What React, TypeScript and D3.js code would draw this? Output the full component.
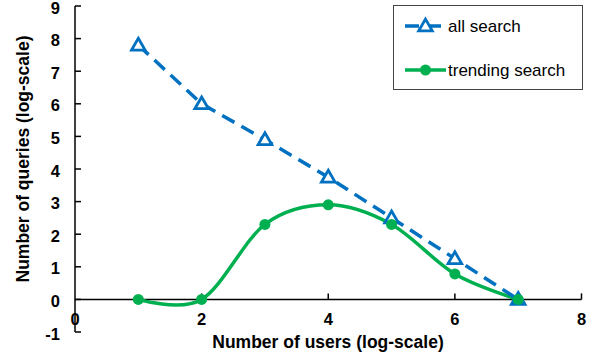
import React, { useEffect, useRef } from "react";
import * as d3 from "d3";

const users = [1, 2, 3, 4, 5, 6, 7];
const allSearch = [7.8, 6.0, 4.9, 3.75, 2.5, 1.25, 0];
const trendingSearch = [0, 0, 2.3, 2.9, 2.3, 0.78, 0];
const xTicks = [0, 2, 4, 6, 8];
const yTicks = [-1, 0, 1, 2, 3, 4, 5, 6, 7, 8, 9];

const BLUE = "#0070C0";
const GREEN = "#00B050";
const FONT = "Arial, 'Liberation Sans', sans-serif";

const Chart = () => {
    const ref = useRef<SVGSVGElement>(null);

    useEffect(() => {
        const width = 598;
        const height = 364;
        const svg = d3.select(ref.current);
        svg.selectAll("*").remove();

        const x = d3.scaleLinear().domain([0, 8]).range([75, 581.5]);
        const y = d3.scaleLinear().domain([-1, 9]).range([332, 6]);

        svg.attr("width", width).attr("height", height);
        svg.append("rect").attr("width", width).attr("height", height).attr("fill", "#fff");

        // axes
        svg.append("line")
            .attr("x1", x(0)).attr("x2", x(0))
            .attr("y1", y(-1)).attr("y2", y(9))
            .attr("stroke", "#000").attr("stroke-width", 1.5);
        svg.append("line")
            .attr("x1", x(0)).attr("x2", x(8))
            .attr("y1", y(0)).attr("y2", y(0))
            .attr("stroke", "#000").attr("stroke-width", 1.5);

        svg.selectAll(".ytick")
            .data(yTicks)
            .enter()
            .append("line")
            .attr("x1", x(0)).attr("x2", x(0) + 6)
            .attr("y1", (d) => y(d)).attr("y2", (d) => y(d))
            .attr("stroke", "#000").attr("stroke-width", 1.5);
        svg.selectAll(".ylab")
            .data(yTicks)
            .enter()
            .append("text")
            .attr("x", 60)
            .attr("y", (d) => y(d) + 7.5)
            .attr("text-anchor", "end")
            .style("font", `bold 16.5px ${FONT}`)
            .text((d) => d);

        svg.selectAll(".xtick")
            .data(xTicks.slice(1))
            .enter()
            .append("line")
            .attr("x1", (d) => x(d)).attr("x2", (d) => x(d))
            .attr("y1", y(0)).attr("y2", y(0) - 6)
            .attr("stroke", "#000").attr("stroke-width", 1.5);
        svg.selectAll(".xlab")
            .data(xTicks)
            .enter()
            .append("text")
            .attr("x", (d) => x(d))
            .attr("y", 325)
            .attr("text-anchor", "middle")
            .style("font", `bold 16.5px ${FONT}`)
            .text((d) => d);

        // axis titles
        svg.append("text")
            .attr("x", 328).attr("y", 348)
            .attr("text-anchor", "middle")
            .style("font", `bold 17.5px ${FONT}`)
            .text("Number of users (log-scale)");
        svg.append("text")
            .attr("transform", "translate(28.5,159) rotate(-90)")
            .attr("text-anchor", "middle")
            .style("font", `bold 17.5px ${FONT}`)
            .text("Number of queries (log-scale)");

        // series
        const allLine = d3.line<number>()
            .x((d, i) => x(users[i]))
            .y((d) => y(d));
        const trendLine = d3.line<number>()
            .x((d, i) => x(users[i]))
            .y((d) => y(d))
            .curve(d3.curveCardinal.tension(0));

        svg.append("path")
            .attr("d", trendLine(trendingSearch))
            .attr("fill", "none")
            .attr("stroke", GREEN)
            .attr("stroke-width", 3.5);
        svg.append("path")
            .attr("d", allLine(allSearch))
            .attr("fill", "none")
            .attr("stroke", BLUE)
            .attr("stroke-width", 3.5)
            .attr("stroke-dasharray", "14,8");

        const tri = d3.symbol().type(d3.symbolTriangle).size(80);
        svg.selectAll(".tri")
            .data(allSearch)
            .enter()
            .append("path")
            .attr("d", tri)
            .attr("transform", (d, i) => `translate(${x(users[i])},${y(d) + 1})`)
            .attr("fill", "#fff")
            .attr("stroke", BLUE)
            .attr("stroke-width", 2.8);

        svg.selectAll(".dot")
            .data(trendingSearch)
            .enter()
            .append("circle")
            .attr("cx", (d, i) => x(users[i]))
            .attr("cy", (d) => y(d))
            .attr("r", 5.5)
            .attr("fill", GREEN);

        // legend
        const lg = svg.append("g");
        lg.append("rect")
            .attr("x", 393.5).attr("y", 5.5)
            .attr("width", 189).attr("height", 84)
            .attr("fill", "#fff")
            .attr("stroke", "#444").attr("stroke-width", 1);
        lg.append("path")
            .attr("d", "M405,26H446")
            .attr("stroke", BLUE).attr("stroke-width", 3.5)
            .attr("stroke-dasharray", "14,8");
        lg.append("path")
            .attr("d", tri)
            .attr("transform", "translate(425.5,27)")
            .attr("fill", "#fff")
            .attr("stroke", BLUE)
            .attr("stroke-width", 2.8);
        lg.append("text")
            .attr("x", 448).attr("y", 32)
            .style("font", `17px ${FONT}`)
            .text("all search");
        lg.append("path")
            .attr("d", "M405,70H446")
            .attr("stroke", GREEN).attr("stroke-width", 3.5);
        lg.append("circle")
            .attr("cx", 425.5).attr("cy", 70).attr("r", 5.5)
            .attr("fill", GREEN);
        lg.append("text")
            .attr("x", 448).attr("y", 75.5)
            .style("font", `17px ${FONT}`)
            .text("trending search");
    }, []);

    return <svg ref={ref} style={{ position: "absolute", left: 0, top: 0 }}></svg>;
};

export default function App() {
    return <Chart />;
}
